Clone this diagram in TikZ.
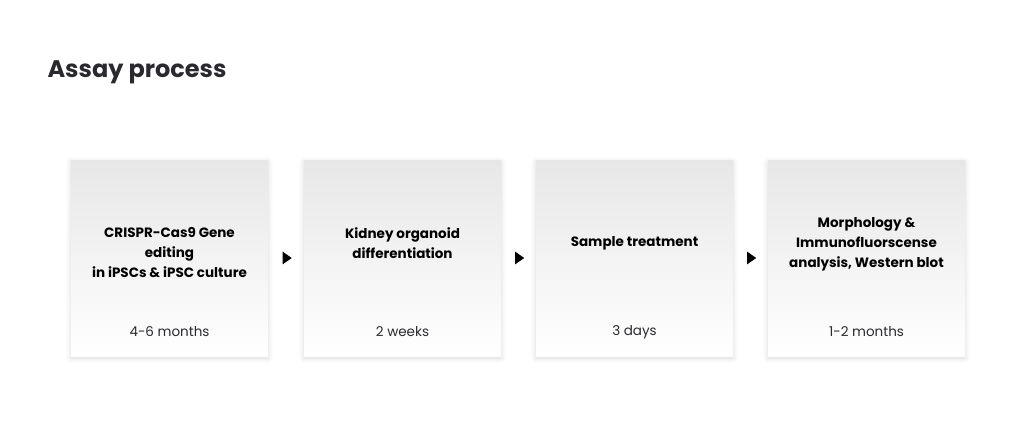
\documentclass[tikz,border=0pt]{standalone}
\usepackage{fontspec}
\setmainfont{Poppins}
\usepackage{tikz}
\usetikzlibrary{shapes.geometric}
\usetikzlibrary{shadows.blur}
\definecolor{inkgray}{HTML}{2A2A2E}
\definecolor{cardtop}{HTML}{E7E7E7}
\tikzset{
    card/.style={
        rectangle, minimum width=197pt, minimum height=196pt, inner sep=0pt,
        top color=cardtop, bottom color=white, draw=none,
        blur shadow={shadow xshift=0pt, shadow yshift=-2pt, shadow blur radius=5pt, shadow opacity=16},
    },
    steptext/.style={align=center, font=\fontsize{13.5}{20}\selectfont\bfseries, text=black},
    timetext/.style={font=\fontsize{13.5}{16}\selectfont, text=inkgray},
    pointer/.style={isosceles triangle, isosceles triangle apex angle=70, fill=black,
        inner sep=0pt, minimum height=9pt, minimum width=9pt},
}

\begin{document}
\begin{tikzpicture}[x=1pt, y=-1pt]
    \useasboundingbox (0,0) rectangle (1024,432);
    \node[anchor=base west, font=\fontsize{24}{30}\selectfont\bfseries, text=inkgray] (title) at (44,77) {Assay process};

    \node[card] (s1) at (169.5,258) {};
    \node[card] (s2) at (402.5,258) {};
    \node[card] (s3) at (634.5,258) {};
    \node[card] (s4) at (866.5,258) {};

    \node[steptext] (t1) at (169.5,253) {CRISPR-Cas9 Gene\\editing\\in iPSCs \& iPSC culture};
    \node[steptext] (t2) at (402.5,243) {Kidney organoid\\differentiation};
    \node[steptext] (t3) at (634.5,243) {Sample treatment};
    \node[steptext] (t4) at (866.5,244) {Morphology \&\\Immunofluorscense\\analysis, Western blot};

    \node[timetext] (d1) at (169.5,332) {4-6 months};
    \node[timetext] (d2) at (402.5,332) {2 weeks};
    \node[timetext] (d3) at (634.5,332) {3 days};
    \node[timetext] (d4) at (866.5,332) {1-2 months};

    \path (s1.east) -- node[pointer] (a1) {} (s2.west);
    \path (s2.east) -- node[pointer] (a2) {} (s3.west);
    \path (s3.east) -- node[pointer] (a3) {} (s4.west);
\end{tikzpicture}
\end{document}
